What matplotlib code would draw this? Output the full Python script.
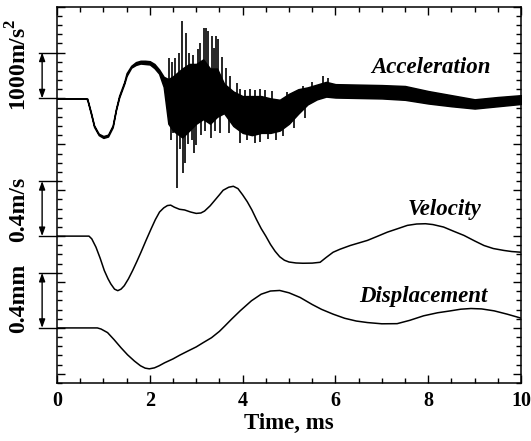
import numpy as np
import matplotlib
matplotlib.use("Agg")
import matplotlib.pyplot as plt
from matplotlib.ticker import MultipleLocator

# ---------------- data ----------------
# Acceleration, m/s^2: core band (lower / upper envelope)
acc_t = [0.0, 0.6, 0.65, 0.73, 0.8, 0.9, 1.0, 1.1, 1.2, 1.27, 1.34, 1.45, 1.5, 1.6, 1.7,
         1.8, 1.9, 2.0, 2.1, 2.2, 2.3, 2.4, 2.5, 2.7, 2.85, 3.0, 3.15, 3.3, 3.45, 3.6,
         3.8, 4.0, 4.2, 4.4, 4.6, 4.8, 5.0, 5.2, 5.4, 5.6, 5.8, 6.0, 6.5, 7.0, 7.5,
         8.0, 8.5, 9.0, 9.5, 10.0]
acc_lo = [0, 0, -20, -330, -620, -800, -860, -830, -630, -260, 20, 320, 490, 670, 730,
          760, 750, 740, 660, 540, 250, -550, -700, -850, -700, -550, -450, -550, -400, -320,
          -600, -750, -800, -750, -750, -700, -550, -330, -130, -20, 40, 20, 10, 0, -30,
          -110, -170, -220, -170, -120]
acc_hi = [0, 0, 0, -300, -590, -770, -820, -790, -590, -230, 60, 360, 550, 710, 790,
          820, 820, 810, 750, 630, 470, 420, 480, 650, 750, 750, 850, 650, 650, 320,
          150, 50, 50, 50, 0, -30, 100, 200, 240, 300, 360, 310, 300, 290, 270,
          160, 70, -20, 30, 70]

# Acceleration spikes beyond the core band (time ms, value m/s^2)
spike_t = [2.42, 2.47, 2.55, 2.62, 2.70, 2.79, 2.84, 2.89, 2.94, 3.04, 3.09, 3.16, 3.22,
           3.25, 3.33, 3.38, 3.43, 3.47, 3.56, 3.64, 3.72, 3.87, 3.94, 4.05, 4.15, 4.26,
           4.37, 4.48, 4.63, 4.95, 5.06, 5.31, 5.5, 5.74, 5.85,
           2.45, 2.50, 2.58, 2.65, 2.71, 2.75, 2.82, 2.90, 2.95, 2.99, 3.1, 3.2, 3.32,
           3.40, 3.51, 3.7, 3.94, 4.1, 4.26, 4.37, 4.55, 4.73, 4.88, 5.1, 5.35]
spike_v = [884, 800, 884, 1000, 1685, 1431, 1000, 700, 950, 1066, 1200, 1540, 1540,
           1466, 1357, 1100, 1357, 1284, 900, 665, 481, 337, 200, 180, 200, 190,
           200, 190, 153, 150, 120, 260, 350, 497, 450,
           -900, -757, -1961, -1100, -1632, -1414, -1000, -900, -1195, -1013, -800, -700, -867,
           -700, -757, -750, -976, -900, -976, -940, -880, -904, -820, -650, -420]

# Velocity, m/s
vel_t = [0.0, 0.69, 0.75, 0.84, 0.93, 1.02, 1.1, 1.16, 1.24, 1.31, 1.38, 1.45, 1.54,
         1.63, 1.72, 1.81, 1.92, 2.03, 2.12, 2.21, 2.3, 2.38, 2.45, 2.53, 2.64, 2.75,
         2.88, 3.0, 3.1, 3.18, 3.3, 3.4, 3.5, 3.58, 3.7, 3.8, 3.9, 4.0, 4.1, 4.2, 4.3,
         4.4, 4.5, 4.6, 4.7, 4.8, 4.9, 5.0, 5.15, 5.3, 5.5, 5.67, 5.8, 5.95, 6.1, 6.32,
         6.5, 6.69, 6.9, 7.12, 7.35, 7.55, 7.75, 7.94, 8.1, 8.33, 8.55, 8.77, 9.0, 9.2,
         9.4, 9.63, 9.8, 10.0]
vel_v = [0.0, 0.0, -0.02, -0.08, -0.16, -0.25, -0.31, -0.347, -0.385, -0.396, -0.385,
         -0.36, -0.31, -0.25, -0.185, -0.117, -0.03, 0.054, 0.12, 0.175, 0.205, 0.222,
         0.225, 0.21, 0.195, 0.19, 0.175, 0.165, 0.168, 0.182, 0.22, 0.26, 0.3, 0.333,
         0.355, 0.362, 0.345, 0.3, 0.25, 0.19, 0.12, 0.055, 0.0, -0.06, -0.11, -0.15,
         -0.175, -0.188, -0.195, -0.197, -0.196, -0.19, -0.155, -0.117, -0.095, -0.068,
         -0.05, -0.031, -0.002, 0.029, 0.055, 0.078, 0.088, 0.09, 0.084, 0.066, 0.035,
         0.005, -0.035, -0.068, -0.09, -0.104, -0.112, -0.117]

# Displacement, mm
disp_t = [0.0, 0.87, 0.95, 1.09, 1.23, 1.38, 1.52, 1.67, 1.8, 1.9, 1.99, 2.1, 2.2, 2.32,
          2.5, 2.65, 2.82, 3.0, 3.15, 3.33, 3.5, 3.62, 3.76, 3.95, 4.19, 4.4, 4.6, 4.8,
          5.0, 5.24, 5.5, 5.7, 5.95, 6.2, 6.45, 6.69, 7.0, 7.33, 7.6, 7.9, 8.2, 8.48,
          8.7, 8.92, 9.15, 9.42, 9.7, 10.0]
disp_v = [0.0, 0.0, -0.008, -0.034, -0.085, -0.144, -0.195, -0.241, -0.275, -0.292,
          -0.297, -0.29, -0.275, -0.253, -0.225, -0.197, -0.168, -0.138, -0.107, -0.071,
          -0.025, 0.015, 0.063, 0.125, 0.197, 0.245, 0.268, 0.272, 0.255, 0.221, 0.17,
          0.135, 0.1, 0.07, 0.05, 0.039, 0.03, 0.031, 0.055, 0.088, 0.11, 0.124, 0.136,
          0.141, 0.138, 0.124, 0.1, 0.071]

labels = ["Acceleration", "Velocity", "Displacement"]
scale_labels = ["1000m/s$^\\mathbf{2}$", "0.4m/s", "0.4mm"]
x_ticks = [0, 2, 4, 6, 8, 10]

# ---------------- layout ----------------
ACC_OFF, VEL_OFF, DISP_OFF = 5.0, 2.0, 0.0
ACC_SC = 1.0 / 1000.0   # units per m/s^2
VEL_SC = 3.0            # units per m/s
DISP_SC = 3.0           # units per mm

plt.rcParams['font.family'] = ['Liberation Serif', 'DejaVu Serif']
plt.rcParams['mathtext.fontset'] = 'custom'
plt.rcParams['mathtext.rm'] = 'Liberation Serif:bold'
plt.rcParams['mathtext.bf'] = 'Liberation Serif:bold'

fig = plt.figure(figsize=(5.31, 4.41), dpi=100)
ax = fig.add_axes([0.1073, 0.1315, 0.874, 0.8535])

t = np.array(acc_t)
lo = ACC_OFF + np.array(acc_lo) * ACC_SC
hi = ACC_OFF + np.array(acc_hi) * ACC_SC
ax.fill_between(t, lo, hi, color='black', lw=1.1, edgecolor='black')
mid = 0.5 * (lo + hi)
st = np.array(spike_t)
base = np.interp(st, t, mid)
ax.vlines(st, base, ACC_OFF + np.array(spike_v) * ACC_SC, color='black', lw=1.2)

ax.plot(vel_t, VEL_OFF + np.array(vel_v) * VEL_SC, color='black', lw=1.1)
ax.plot(disp_t, DISP_OFF + np.array(disp_v) * DISP_SC, color='black', lw=1.1)

ax.set_xlim(0, 10)
ax.set_ylim(-1.2, 7.0)
ax.xaxis.set_major_locator(MultipleLocator(2))
ax.xaxis.set_minor_locator(MultipleLocator(0.5))
ax.yaxis.set_major_locator(MultipleLocator(1))
ax.yaxis.set_minor_locator(MultipleLocator(0.2))
ax.set_xticks(x_ticks)
ax.set_xticklabels([str(v) for v in x_ticks])
ax.tick_params(which='both', direction='in', top=True, right=True, width=1.0,
               labelleft=False)
ax.tick_params(which='major', length=6)
ax.tick_params(which='minor', length=3.5)
ax.tick_params(axis='x', labelsize=14.5, pad=6)
for lab in ax.get_xticklabels():
    lab.set_fontweight('bold')
for s in ax.spines.values():
    s.set_linewidth(1.1)
ax.set_xlabel("Time, ms", fontsize=16.5, fontweight='bold', labelpad=1)

# trace labels
ax.text(8.05, 5.67, labels[0], fontsize=16.5, fontweight='bold', style='italic',
        ha='center', va='center')
ax.text(8.35, 2.58, labels[1], fontsize=16.5, fontweight='bold', style='italic',
        ha='center', va='center')
ax.text(7.9, 0.68, labels[2], fontsize=16.5, fontweight='bold', style='italic',
        ha='center', va='center')

# scale bars outside left spine
bars = [(ACC_OFF, ACC_OFF + 1000 * ACC_SC), (VEL_OFF, VEL_OFF + 0.4 * VEL_SC),
        (DISP_OFF, DISP_OFF + 0.4 * DISP_SC)]
lab_y = [5.73, 2.59, 0.645]
for (y0, y1), txt, ly in zip(bars, scale_labels, lab_y):
    for yy in (y0, y1):
        ax.plot([-0.38, 0.0], [yy, yy], color='black', lw=1.0, clip_on=False)
    ax.annotate('', xy=(-0.32, y1), xytext=(-0.32, y0),
                arrowprops=dict(arrowstyle='<|-|>,head_length=0.5,head_width=0.18',
                                color='black', lw=1.0, shrinkA=0, shrinkB=0),
                annotation_clip=False)
    ax.text(-0.82, ly, txt, rotation=90, fontsize=17, fontweight='bold',
            ha='center', va='center', clip_on=False)

fig.savefig("out.png", dpi=100)
